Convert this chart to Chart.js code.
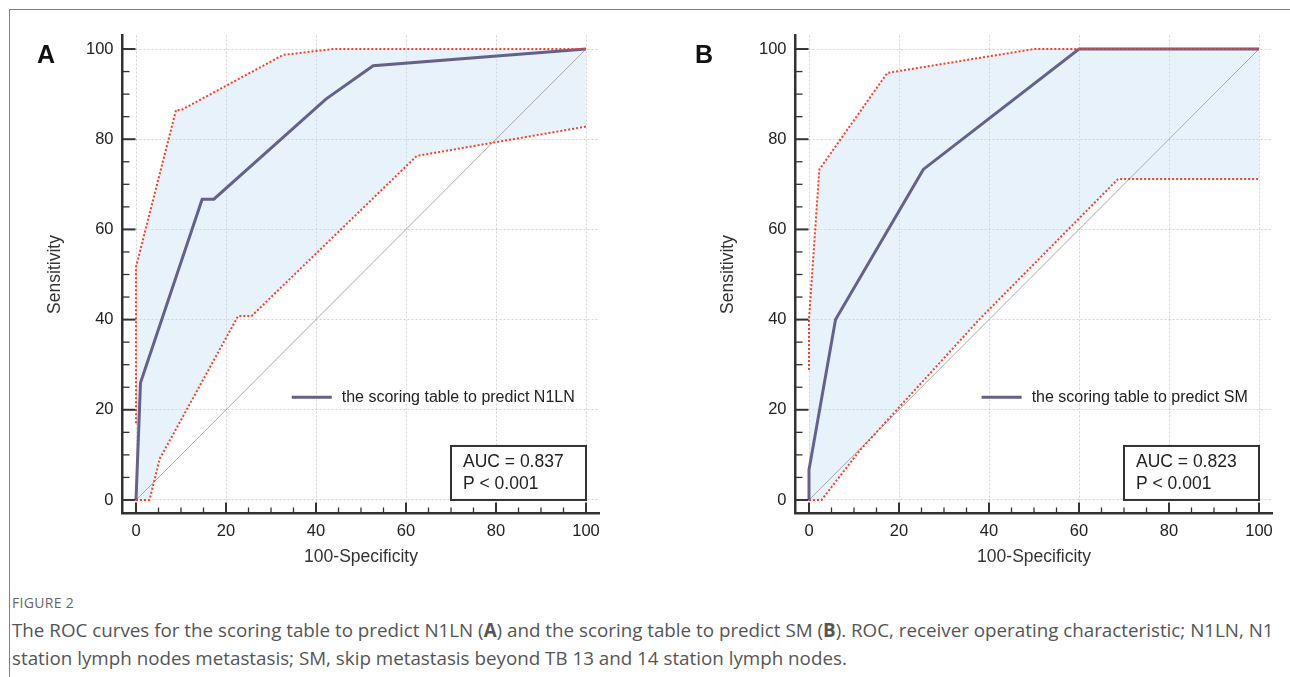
<!DOCTYPE html>
<html>
<head>
<meta charset="utf-8">
<script src="https://cdn.jsdelivr.net/npm/chart.js@4/dist/chart.umd.min.js"></script>
<style>
  body { margin: 0; background: #fff; width: 1290px; height: 677px; overflow: hidden; position: relative; }
  .frame { position: absolute; left: 9px; top: 9px; width: 1400px; height: 800px; border-top: 1px solid #808080; border-left: 1px solid #808080; }
  canvas { position: absolute; top: 0; }
  #chartA { left: 0; }
  #chartB { left: 673px; }
  .letter { position: absolute; top: 42px; font: bold 25px "Liberation Sans", Arial, sans-serif; line-height: 25px; color: #111; }
  .cap-title { position: absolute; left: 12px; top: 593px; font: 14px "Open Sans", sans-serif; color: #666; letter-spacing: 0.3px; }
  .cap { position: absolute; left: 12px; top: 616px; font: 18.8px "Open Sans", sans-serif; color: #555; line-height: 28px; white-space: nowrap; }
</style>
</head>
<body>
<div class="frame"></div>
<canvas id="chartA" width="640" height="580"></canvas>
<canvas id="chartB" width="640" height="580"></canvas>
<div class="letter" style="left:37px">A</div>
<div class="letter" style="left:695px">B</div>
<div class="cap-title">FIGURE 2</div>
<div class="cap">The ROC curves for the scoring table to predict N1LN (<b>A</b>) and the scoring table to predict SM (<b>B</b>). ROC, receiver operating characteristic; N1LN, N1<br>station lymph nodes metastasis; SM, skip metastasis beyond TB 13 and 14 station lymph nodes.</div>

<script>
// tick values
const tickLabels = [0, 20, 40, 60, 80, 100];
const minorTicks = [0, 5, 10, 15, 20, 25, 30, 35, 40, 45, 50, 55, 60, 65, 70, 75, 80, 85, 90, 95, 100];

// reference diagonal
const diagX = [0, 100];
const diagY = [0, 100];

// Panel A - N1LN
const aRocX = [0, 1.0, 14.7, 17.3, 42.2, 52.7, 100];
const aRocY = [0, 26.0, 66.7, 66.7, 88.9, 96.3, 100];
const aUpX = [0, 0, 8.9, 10.1, 32.7, 43.8, 100];
const aUpY = [17.0, 51.7, 86.5, 86.5, 98.7, 100, 100];
const aLoX = [0, 3.0, 5.3, 22.7, 25.7, 62.4, 100];
const aLoY = [0, 0, 9.2, 40.8, 40.8, 76.3, 82.8];

// Panel B - SM
const bRocX = [0, 0, 5.9, 25.4, 60, 100];
const bRocY = [0, 6.7, 40.0, 73.3, 100, 100];
const bUpX = [0, 0, 2.3, 17.4, 50.0, 100];
const bUpY = [28.8, 40.0, 73.3, 94.7, 100, 100];
const bLoX = [0, 2.8, 11.3, 37.8, 68.7, 100];
const bLoY = [0, 0, 11.0, 40.0, 71.2, 71.2];

Chart.defaults.font.family = '"Liberation Sans", Arial, sans-serif';

const pts = (xs, ys) => xs.map((v, i) => ({ x: v, y: ys[i] }));

// minor ticks (inward), legend and AUC box
const decor = {
  id: 'decor',
  afterDraw(chart, args, opts) {
    const { ctx, chartArea: a, scales: { x, y } } = chart;
    ctx.save();
    ctx.strokeStyle = '#333';
    minorTicks.forEach(v => {
      const major = tickLabels.includes(v);
      ctx.lineWidth = major ? 2 : 1.3;
      const py = y.getPixelForValue(v);
      ctx.beginPath();
      ctx.moveTo(a.left, py);
      ctx.lineTo(a.left + (major ? 13 : 7), py);
      ctx.stroke();
      const px = x.getPixelForValue(v);
      ctx.beginPath();
      ctx.moveTo(px, a.bottom);
      ctx.lineTo(px, a.bottom - (major ? 11 : 6));
      ctx.stroke();
    });

    // legend
    ctx.font = '16px "Liberation Sans", Arial, sans-serif';
    ctx.fillStyle = '#222';
    ctx.textAlign = 'right';
    ctx.textBaseline = 'middle';
    const lx = x.getPixelForValue(97.5);
    const ly = y.getPixelForValue(22.8);
    const w = ctx.measureText(opts.legend).width;
    ctx.fillText(opts.legend, lx, ly);
    ctx.strokeStyle = '#65618a';
    ctx.lineWidth = 3;
    ctx.beginPath();
    ctx.moveTo(lx - w - 50, ly);
    ctx.lineTo(lx - w - 10, ly);
    ctx.stroke();

    // AUC box
    const right = x.getPixelForValue(100);
    const bottom = y.getPixelForValue(0);
    const bw = 135, bh = 54;
    ctx.fillStyle = '#fff';
    ctx.fillRect(right - bw, bottom - bh, bw, bh);
    ctx.strokeStyle = '#333';
    ctx.lineWidth = 2;
    ctx.strokeRect(right - bw, bottom - bh, bw, bh);
    ctx.fillStyle = '#222';
    ctx.textAlign = 'left';
    ctx.font = '17.5px "Liberation Sans", Arial, sans-serif';
    ctx.fillText(opts.auc[0], right - bw + 12, bottom - bh + 16);
    ctx.fillText(opts.auc[1], right - bw + 12, bottom - bh + 38);
    ctx.restore();
  }
};

function makeChart(id, rocX, rocY, upX, upY, loX, loY, legend, auc) {
  const band = pts(upX, upY).concat(pts(loX, loY).reverse());
  const ciStyle = { showLine: true, borderColor: '#f4402b', borderWidth: 2, borderDash: [2, 2], pointRadius: 0, fill: false, order: 1 };
  return new Chart(document.getElementById(id), {
    type: 'scatter',
    data: {
      datasets: [
        { data: band, showLine: true, fill: 'shape', backgroundColor: 'rgba(200,224,242,0.42)', borderWidth: 0, pointRadius: 0, order: 4 },
        { data: pts(diagX, diagY), showLine: true, borderColor: '#a8a8a8', borderWidth: 1, pointRadius: 0, fill: false, order: 3 },
        { data: pts(rocX, rocY), showLine: true, borderColor: '#65618a', borderWidth: 3, pointRadius: 0, fill: false, order: 2 },
        Object.assign({ data: pts(upX, upY) }, ciStyle),
        Object.assign({ data: pts(loX, loY) }, ciStyle)
      ]
    },
    options: {
      responsive: false,
      devicePixelRatio: 1,
      animation: false,
      events: [],
      layout: { padding: { top: 35.5, right: 40.5, left: 0, bottom: 0 } },
      plugins: {
        legend: { display: false },
        tooltip: { enabled: false },
        decor: { legend: legend, auc: auc }
      },
      scales: {
        x: {
          type: 'linear', min: -3, max: 103,
          afterFit(s) { s.height = 66.5; },
          afterBuildTicks(s) { s.ticks = tickLabels.map(v => ({ value: v })); },
          grid: { color: 'rgba(165,150,150,0.45)', lineWidth: 1, drawTicks: false },
          border: { display: true, color: '#333', width: 2.5, dash: [2, 2] },
          ticks: { padding: 8, color: '#222', font: { size: 16.5 } },
          title: { display: true, text: '100-Specificity', color: '#333', font: { size: 17.5 }, padding: { top: 0, bottom: 12.5 } }
        },
        y: {
          type: 'linear', min: -3, max: 103,
          afterFit(s) { s.width = 122.5; },
          afterBuildTicks(s) { s.ticks = tickLabels.map(v => ({ value: v })); },
          grid: { color: 'rgba(165,150,150,0.45)', lineWidth: 1, drawTicks: false },
          border: { display: true, color: '#333', width: 2.5, dash: [2, 2] },
          ticks: { padding: 9, color: '#222', font: { size: 16.5 } },
          title: { display: true, text: 'Sensitivity', color: '#333', font: { size: 17.5 }, padding: { top: 44.5, bottom: 0 } }
        }
      }
    },
    plugins: [decor]
  });
}

makeChart('chartA', aRocX, aRocY, aUpX, aUpY, aLoX, aLoY,
  'the scoring table to predict N1LN', ['AUC = 0.837', 'P < 0.001']);
makeChart('chartB', bRocX, bRocY, bUpX, bUpY, bLoX, bLoY,
  'the scoring table to predict SM', ['AUC = 0.823', 'P < 0.001']);
</script>
</body>
</html>
